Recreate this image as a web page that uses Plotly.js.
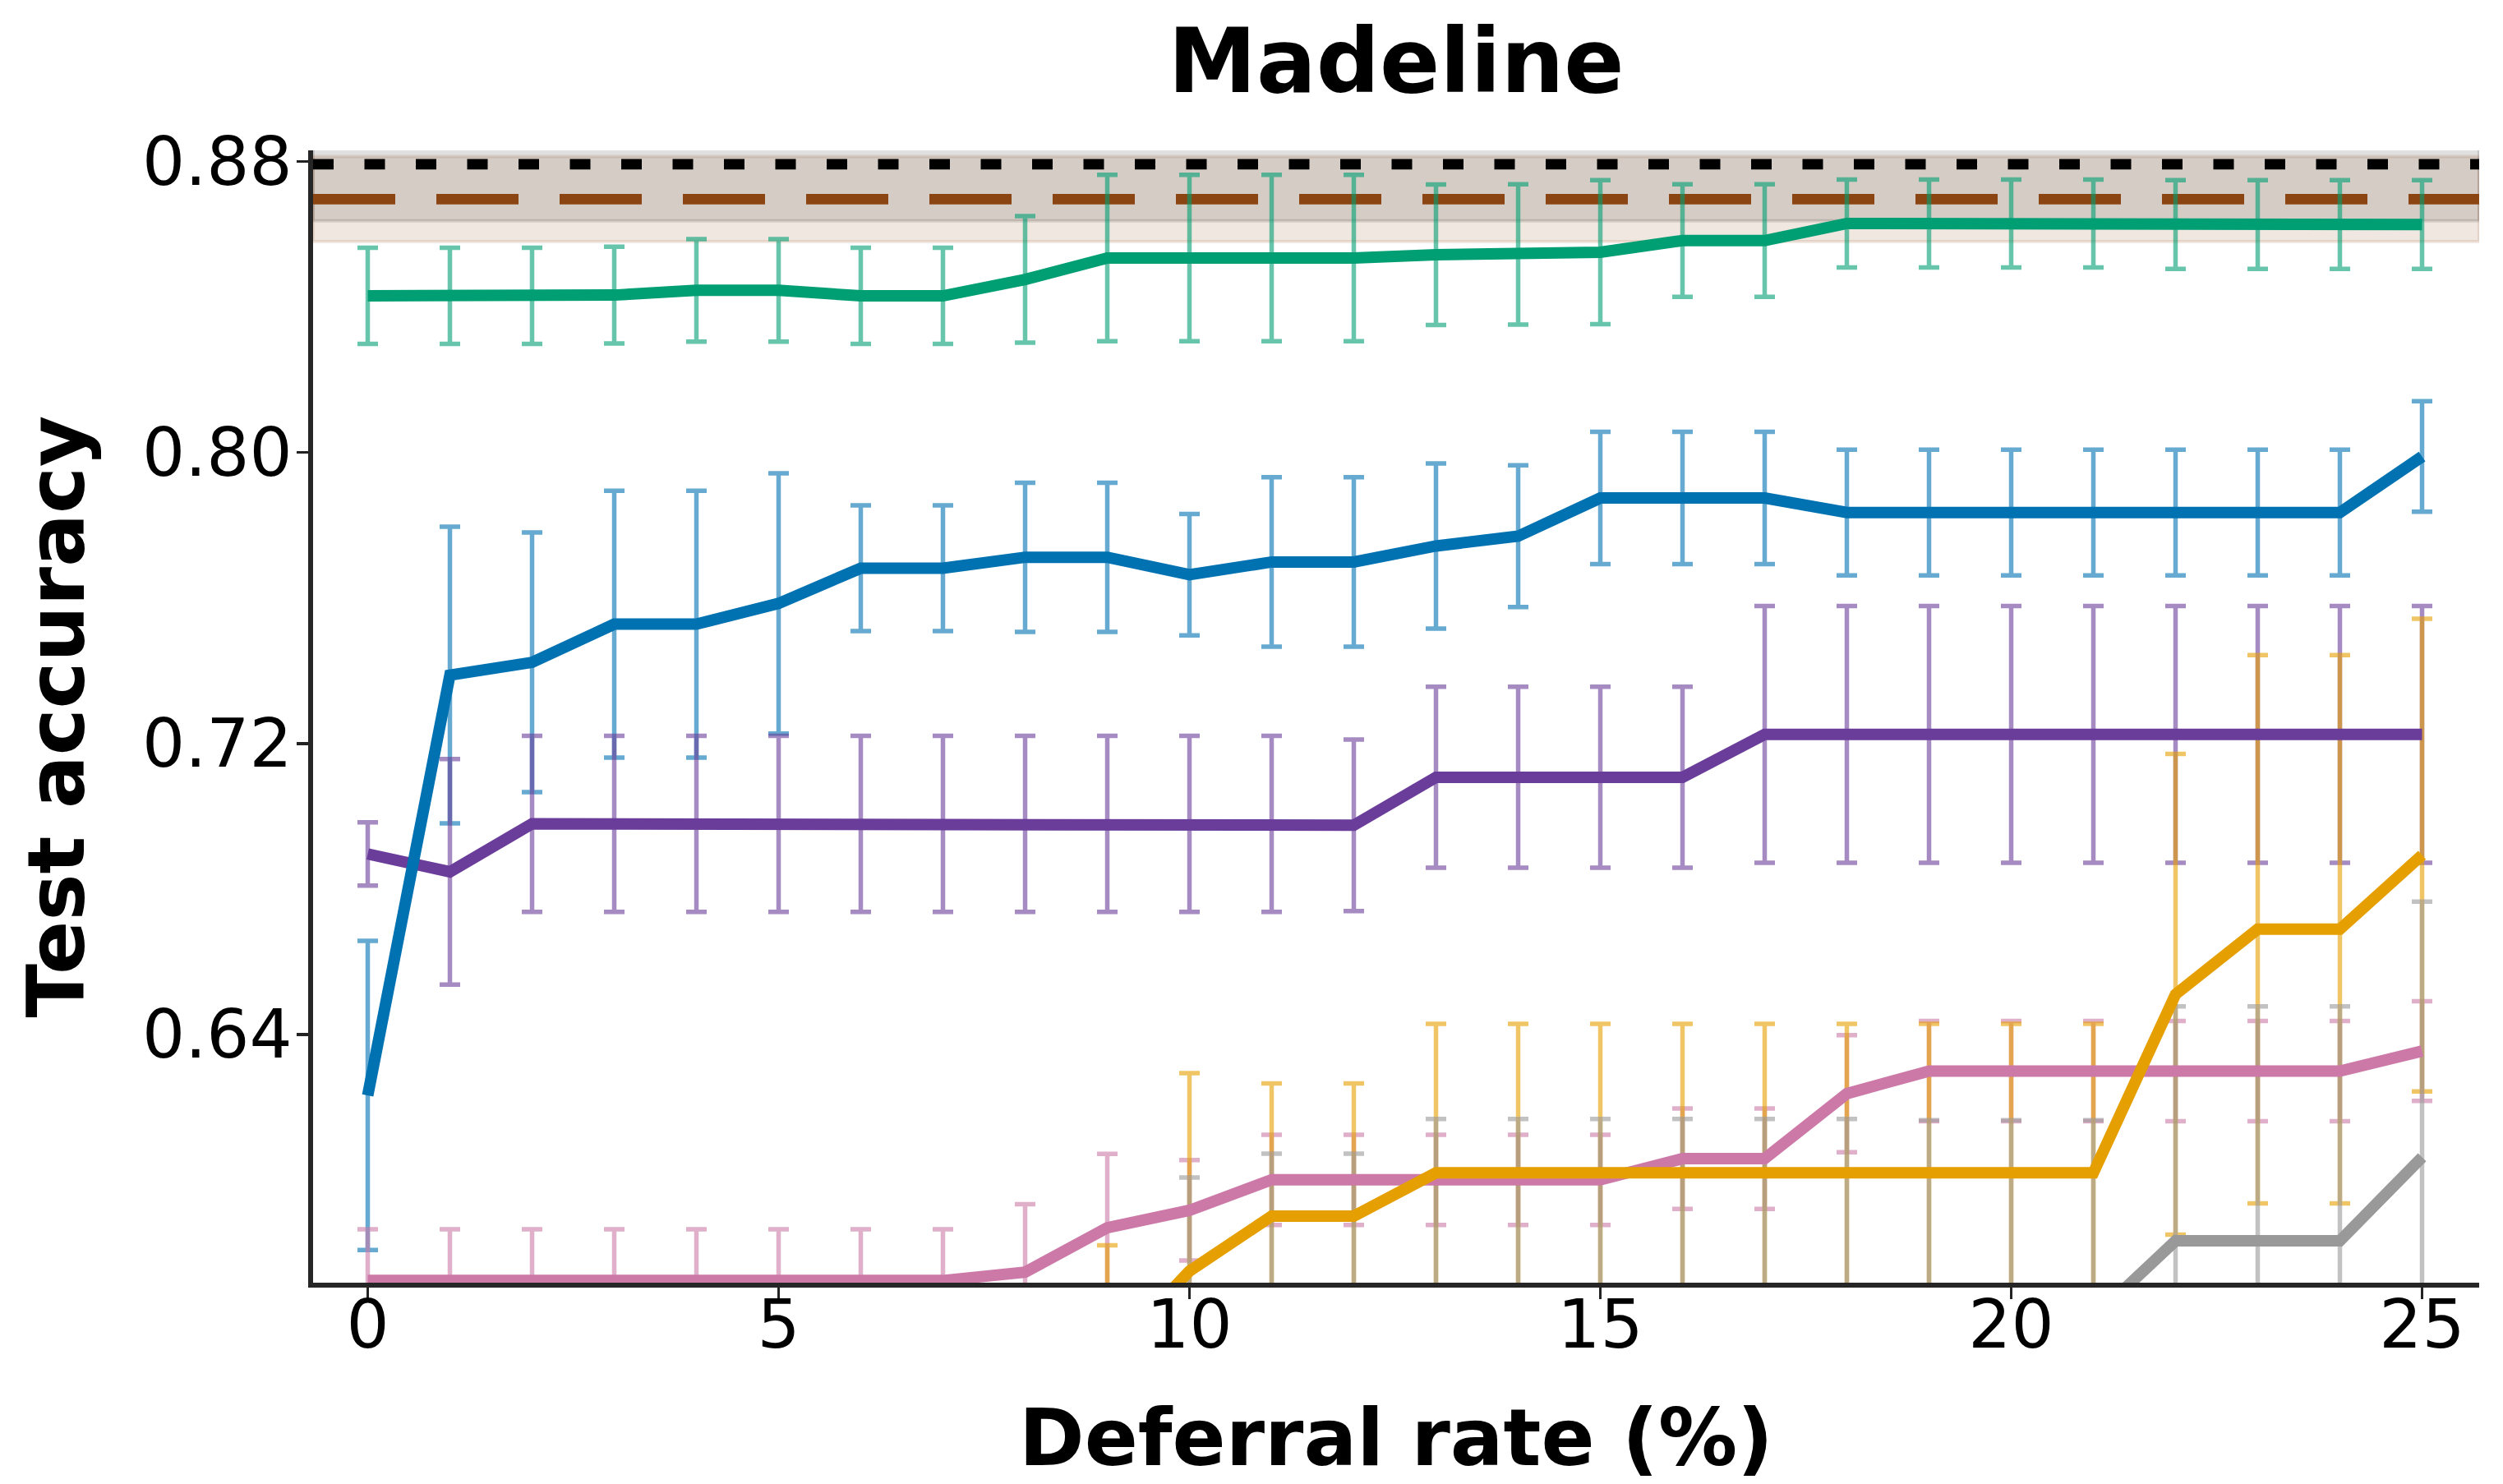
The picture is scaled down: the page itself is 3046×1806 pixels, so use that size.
<!DOCTYPE html>
<html>
<head>
<meta charset="utf-8">
<script src="https://cdn.plot.ly/plotly-3.0.1.min.js"></script>
<style>
html,body{margin:0;padding:0;background:#ffffff;}
#chart{width:3046px;height:1806px;}
</style>
</head>
<body>
<div id="chart"></div>
<script>
// ---------------- data ----------------
const deferralRate = [0,1,2,3,4,5,6,7,8,9,10,11,12,13,14,15,16,17,18,19,20,21,22,23,24,25];

const greenMean = [0.8431,0.8431,0.8431,0.8433,0.8446,0.8446,0.8431,0.8431,0.8476,0.8535,0.8535,0.8535,0.8535,0.8544,0.8545,0.8551,0.8583,0.8583,0.8630,0.8630,0.8630,0.8630,0.8627,0.8627,0.8627,0.8627];
const greenErr  = [0.0132,0.0132,0.0132,0.0133,0.0141,0.0141,0.0132,0.0132,0.0174,0.0229,0.0229,0.0229,0.0229,0.0193,0.0193,0.0198,0.0155,0.0155,0.0121,0.0121,0.0121,0.0121,0.0122,0.0122,0.0122,0.0122];

const blueMean = [0.6232,0.7388,0.7423,0.7528,0.7528,0.7585,0.7682,0.7682,0.7712,0.7712,0.7664,0.7699,0.7699,0.7743,0.7770,0.7875,0.7875,0.7875,0.7835,0.7835,0.7835,0.7835,0.7835,0.7835,0.7835,0.7989];
const blueErr  = [0.0425,0.0408,0.0357,0.0367,0.0367,0.0358,0.0173,0.0173,0.0205,0.0205,0.0167,0.0233,0.0233,0.0227,0.0195,0.0182,0.0182,0.0182,0.0173,0.0173,0.0173,0.0173,0.0173,0.0173,0.0173,0.0152];

const purpleMean = [0.6896,0.6847,0.6979,0.6979,0.6979,0.6979,0.6979,0.6979,0.6979,0.6979,0.6979,0.6979,0.6975,0.7107,0.7107,0.7107,0.7107,0.7225,0.7225,0.7225,0.7225,0.7225,0.7225,0.7225,0.7225,0.7225];
const purpleErr  = [0.0087,0.0310,0.0242,0.0242,0.0242,0.0242,0.0242,0.0242,0.0242,0.0242,0.0242,0.0242,0.0236,0.0249,0.0249,0.0249,0.0249,0.0353,0.0353,0.0353,0.0353,0.0353,0.0353,0.0353,0.0353,0.0353];

const pinkMean = [0.5723,0.5723,0.5723,0.5723,0.5723,0.5723,0.5723,0.5723,0.5746,0.5868,0.5916,0.6000,0.6000,0.6000,0.6000,0.6000,0.6058,0.6058,0.6237,0.6299,0.6299,0.6299,0.6299,0.6299,0.6299,0.6354];
const pinkErr  = [0.0141,0.0141,0.0141,0.0141,0.0141,0.0141,0.0141,0.0141,0.0187,0.0203,0.0138,0.0124,0.0124,0.0124,0.0124,0.0124,0.0138,0.0138,0.0161,0.0138,0.0138,0.0138,0.0138,0.0138,0.0138,0.0137];

const orangeMean = [0.530,0.530,0.530,0.530,0.530,0.530,0.530,0.530,0.530,0.551,0.5749,0.590,0.590,0.6019,0.6019,0.6019,0.6019,0.6019,0.6019,0.6019,0.6019,0.6019,0.651,0.6689,0.6689,0.6893];
const orangeErr  = [0.020,0.020,0.020,0.020,0.020,0.020,0.020,0.020,0.020,0.031,0.0544,0.0365,0.0365,0.041,0.041,0.041,0.041,0.041,0.041,0.041,0.041,0.041,0.0661,0.0754,0.0754,0.065];

const grayMean = [0.520,0.520,0.520,0.520,0.520,0.520,0.520,0.520,0.520,0.520,0.540,0.545,0.545,0.553,0.553,0.553,0.553,0.553,0.553,0.562,0.562,0.562,0.5832,0.5832,0.5832,0.6062];
const grayErr  = [0.025,0.025,0.025,0.025,0.025,0.025,0.025,0.025,0.025,0.025,0.0606,0.0622,0.0622,0.0637,0.0637,0.0637,0.0637,0.0637,0.0637,0.0544,0.0544,0.0544,0.0645,0.0645,0.0645,0.0703];

// horizontal reference levels (mean and spread)
const refBlackMean = 0.8793, refBlackSpread = 0.0156;
const refBrownMean = 0.8697, refBrownSpread = 0.0117;

const xTickVals = [0,5,10,15,20,25];
const xTickText = ['0','5','10','15','20','25'];
const yTickVals = [0.64,0.72,0.80,0.88];
const yTickText = ['0.64','0.72','0.80','0.88'];

const chartTitle = 'Madeline';
const xTitle = 'Deferral rate (%)';
const yTitle = 'Test accuracy';

// ---------------- styling ----------------
const xRange = [-0.665, 25.695];
const yRange = [0.5717, 0.8831];
const FONT = 'DejaVu Sans, Liberation Sans, sans-serif';

const S = {
  gray:   {mean: grayMean,   err: grayErr,   color: '#999999', bar: 'rgba(153,153,153,0.6)'},
  pink:   {mean: pinkMean,   err: pinkErr,   color: '#CC79A7', bar: 'rgba(204,121,167,0.6)'},
  orange: {mean: orangeMean, err: orangeErr, color: '#E69F00', bar: 'rgba(230,159,0,0.6)'},
  purple: {mean: purpleMean, err: purpleErr, color: '#6A3D9A', bar: 'rgba(106,61,154,0.6)'},
  blue:   {mean: blueMean,   err: blueErr,   color: '#0072B2', bar: 'rgba(0,114,178,0.6)'},
  green:  {mean: greenMean,  err: greenErr,  color: '#009E73', bar: 'rgba(0,158,115,0.6)'}
};
const barOrder  = ['blue','pink','purple','orange','gray','green'];
const lineOrder = ['gray','pink','orange','purple','blue','green'];

const traces = [];

function band(mean, spread, rgba) {
  return {
    type: 'scatter', mode: 'lines',
    x: [xRange[0], xRange[1], xRange[1], xRange[0], xRange[0]],
    y: [mean - spread, mean - spread, mean + spread, mean + spread, mean - spread],
    fill: 'toself', fillcolor: rgba,
    line: {color: rgba, width: 4},
    hoverinfo: 'skip', showlegend: false
  };
}
traces.push(band(refBlackMean, refBlackSpread, 'rgba(0,0,0,0.12)'));
traces.push(band(refBrownMean, refBrownSpread, 'rgba(139,69,19,0.13)'));

traces.push({
  type: 'scatter', mode: 'lines',
  x: [xRange[0], xRange[1]], y: [refBlackMean, refBlackMean],
  line: {color: '#000000', width: 12.7, dash: '25px,37.5px'},
  hoverinfo: 'skip', showlegend: false
});
traces.push({
  type: 'scatter', mode: 'lines',
  x: [xRange[0], xRange[1]], y: [refBrownMean, refBrownMean],
  line: {color: '#8B4513', width: 12.7, dash: '100px,50px'},
  hoverinfo: 'skip', showlegend: false
});

// error bars first (all series), then the mean lines on top
barOrder.forEach(k => {
  const s = S[k];
  traces.push({
    type: 'scatter', mode: 'markers',
    x: deferralRate, y: s.mean,
    marker: {size: 2, opacity: 0, color: s.color},
    error_y: {type: 'data', array: s.err, visible: true, color: s.bar, thickness: 5.5, width: 12.5},
    hoverinfo: 'skip', showlegend: false
  });
});
lineOrder.forEach(k => {
  const s = S[k];
  traces.push({
    type: 'scatter', mode: 'lines',
    x: deferralRate, y: s.mean,
    line: {color: s.color, width: 14},
    hoverinfo: 'skip', showlegend: false
  });
});

const axisCommon = {
  ticks: 'outside', ticklen: 14, tickwidth: 3.5, tickcolor: '#222222',
  showline: true, linewidth: 6, linecolor: '#262626',
  showgrid: false, zeroline: false,
  tickfont: {family: FONT, size: 82, color: '#000000'}
};

const layout = {
  width: 3046, height: 1806,
  margin: {l: 381, r: 29, t: 183, b: 245, pad: 0},
  paper_bgcolor: '#ffffff', plot_bgcolor: '#ffffff',
  showlegend: false,
  title: {
    text: chartTitle,
    font: {family: FONT, size: 108, weight: 'bold', color: '#000000'},
    x: 0.5, xref: 'paper', xanchor: 'center',
    y: 0.9591, yref: 'container', yanchor: 'middle'
  },
  xaxis: Object.assign({}, axisCommon, {
    range: xRange, tickvals: xTickVals, ticktext: xTickText,
    ticklabelstandoff: -39,
    title: {text: xTitle, font: {family: FONT, size: 96, weight: 'bold', color: '#000000'}, standoff: 119}
  }),
  yaxis: Object.assign({}, axisCommon, {
    range: yRange, tickvals: yTickVals, ticktext: yTickText,
    ticklabelstandoff: -11,
    title: {text: yTitle, font: {family: FONT, size: 96, weight: 'bold', color: '#000000'}, standoff: 40}
  })
};

Plotly.newPlot('chart', traces, layout, {staticPlot: true, displayModeBar: false});
</script>
</body>
</html>
